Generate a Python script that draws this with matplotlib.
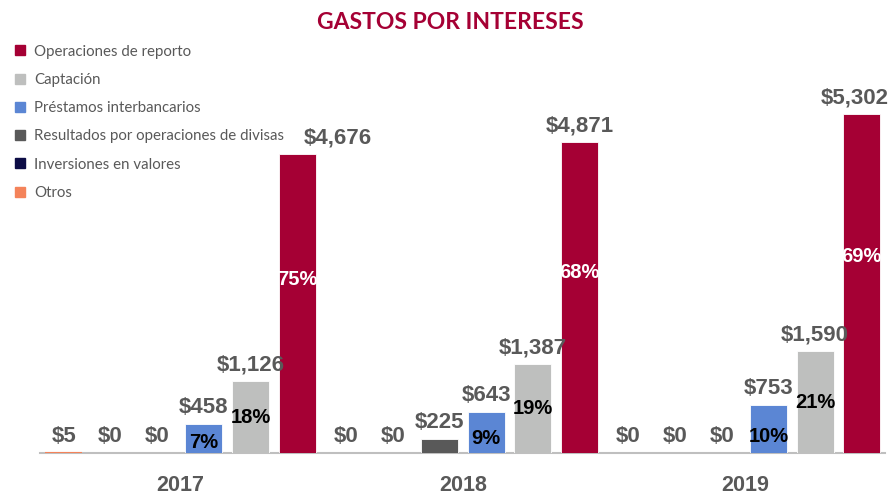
import matplotlib.pyplot as plt
from matplotlib.lines import Line2D

years = ["2017", "2018", "2019"]
series = ["Otros", "Inversiones en valores", "Resultados por operaciones de divisas",
          "Préstamos interbancarios", "Captación", "Operaciones de reporto"]
otros = [5, 0, 0]
inversiones = [0, 0, 0]
divisas = [0, 225, 0]
prestamos = [458, 643, 753]
captacion = [1126, 1387, 1590]
reporto = [4676, 4871, 5302]
pct_prestamos = [7, 9, 10]
pct_captacion = [18, 19, 21]
pct_reporto = [75, 68, 69]

values = [otros, inversiones, divisas, prestamos, captacion, reporto]
pcts = {3: pct_prestamos, 4: pct_captacion, 5: pct_reporto}
colors = ["#F4835A", "#0C0C45", "#595959", "#5B86D4", "#BEBFBE", "#A50034"]
pct_colors = {3: "black", 4: "black", 5: "white"}
pct_frac = {3: 0.35, 4: 0.5, 5: 0.58}
# horizontal nudges (px) for the reporto labels, as in the original layout
reporto_dx = [41, 0, -7]

group_step = 6.05
width = 0.79
label_gray = "#595959"

fig = plt.figure(figsize=(8.92, 4.95), dpi=100)
ax = fig.add_axes([0.0448, 0.0848, 0.947, 0.7152])

for j, vals in enumerate(values):
    xs = [g * group_step + j for g in range(len(years))]
    # tiny non-zero bars get an outline so they stay visible
    edges = [colors[j] if (j == 0 and v > 0) else ("white" if v > 0 else "none") for v in vals]
    lws = [1.5 if j == 0 else 0.6 for v in vals]
    ax.bar(xs, vals, width=width, color=colors[j], zorder=3, edgecolor=edges, linewidth=lws)
    for g, (x, v) in enumerate(zip(xs, vals)):
        dx = reporto_dx[g] if j == 5 else 0
        ax.annotate(f"${v:,}", (x, v), xytext=(dx * 0.72, 4), textcoords="offset points",
                    ha="center", va="bottom", fontsize=16, fontweight="bold",
                    color=label_gray, family="Liberation Sans", zorder=4)
        if j in pcts:
            ax.text(x, v * pct_frac[j], f"{pcts[j][g]}%", ha="center", va="center",
                    fontsize=14.5, fontweight="bold", color=pct_colors[j],
                    family="Liberation Sans", zorder=4)

ax.set_xlim(-0.51, 2 * group_step + 5 + 0.49)
ax.set_ylim(0, 5537)
ax.set_xticks([g * group_step + 2.5 for g in range(len(years))])
ax.set_xticklabels(years, fontsize=15.5, fontweight="bold", color=label_gray,
                   family="Liberation Sans")
ax.tick_params(axis="x", length=0, pad=16)
ax.set_yticks([])
for s in ["top", "right", "left"]:
    ax.spines[s].set_visible(False)
ax.spines["bottom"].set_color("#BFBFBF")
ax.spines["bottom"].set_linewidth(1.5)
ax.spines["bottom"].set_zorder(1)

fig.text(0.505, 0.955, "GASTOS POR INTERESES", ha="center", va="center",
         fontsize=16.5, fontweight="bold", color="#A50034", family="Lato")

handles = [Line2D([], [], marker="s", linestyle="", markersize=7.2,
                  markerfacecolor=colors[j], markeredgecolor=colors[j])
           for j in range(5, -1, -1)]
fig.legend(handles, [series[j] for j in range(5, -1, -1)], loc="upper left",
           bbox_to_anchor=(0.0, 0.937), frameon=False, handlelength=0.8,
           handletextpad=0.6, labelspacing=0.95,
           prop={"family": "Lato", "size": 10.8}, labelcolor=label_gray)

fig.savefig("out.png", dpi=100)
